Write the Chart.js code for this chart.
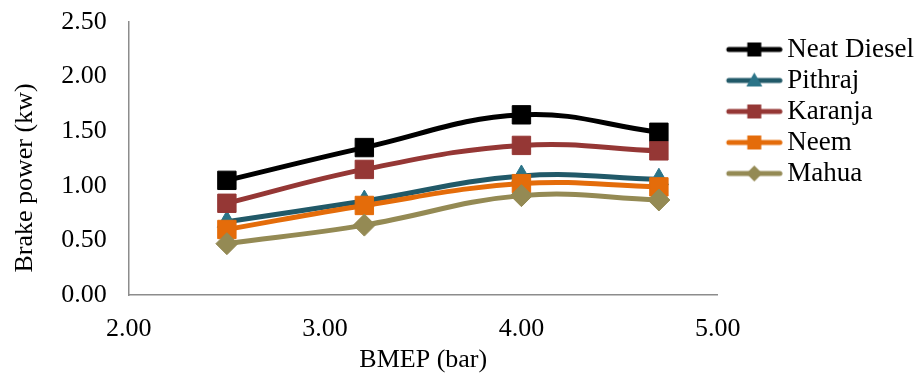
<!DOCTYPE html>
<html>
<head>
<meta charset="utf-8">
<script src="https://cdn.jsdelivr.net/npm/chart.js@4.4.1/dist/chart.umd.min.js"></script>
<style>
  body { margin: 0; background: #fff; }
  #wrap { width: 916px; height: 376px; }
</style>
</head>
<body>
<div id="wrap"><canvas id="bpChart" width="916" height="376"></canvas></div>
<script>
// BMEP (bar) on the x axis
const bmep = [2.5, 3.2, 4.0, 4.7];

// Brake power (kw) per fuel
const neatDiesel = [1.05, 1.35, 1.65, 1.49];
const pithraj    = [0.67, 0.86, 1.09, 1.06];
const karanja    = [0.84, 1.15, 1.37, 1.32];
const neem       = [0.60, 0.82, 1.02, 0.99];
const mahua      = [0.47, 0.64, 0.91, 0.87];

const seriesNames = ['Neat Diesel', 'Pithraj', 'Karanja', 'Neem', 'Mahua'];

Chart.defaults.font.family = "'Liberation Serif', 'Times New Roman', serif";
Chart.defaults.font.size = 26;
Chart.defaults.color = '#000';

function toPoints(values) {
    return values.map((v, i) => ({ x: bmep[i], y: v }));
}

function makeSeries(label, values, lineColor, markerColor, style, radius) {
    return {
        label: label,
        data: toPoints(values),
        borderColor: lineColor,
        backgroundColor: markerColor,
        borderWidth: 5,
        tension: 0.4,
        fill: false,
        pointStyle: style,
        pointRadius: radius,
        pointBackgroundColor: markerColor,
        pointBorderColor: markerColor,
        pointBorderWidth: 1
    };
}

// later datasets sit on top, so they get a lower "order"
const datasets = [
    makeSeries(seriesNames[0], neatDiesel, '#000000', '#000000', 'rect', 13),
    makeSeries(seriesNames[1], pithraj, '#215968', '#2b7488', 'triangle', 11),
    makeSeries(seriesNames[2], karanja, '#953735', '#953735', 'rect', 13),
    makeSeries(seriesNames[3], neem, '#e46c0a', '#e46c0a', 'rect', 13),
    makeSeries(seriesNames[4], mahua, '#948a54', '#948a54', 'rectRot', 11)
];
datasets.forEach((ds, i) => { ds.order = datasets.length - i; });

// line + marker picture for each legend entry (left part left blank on purpose)
function legendIcon(ds) {
    const c = document.createElement('canvas');
    c.width = 70;
    c.height = 26;
    const g = c.getContext('2d');
    const x0 = 16, x1 = 67, mid = (x0 + x1) / 2;
    g.strokeStyle = ds.borderColor;
    g.lineWidth = 5;
    g.lineCap = 'round';
    g.beginPath();
    g.moveTo(x0, 13);
    g.lineTo(x1, 13);
    g.stroke();
    g.fillStyle = ds.pointBackgroundColor;
    g.beginPath();
    if (ds.pointStyle === 'rect') {
        g.rect(mid - 7, 13 - 7, 14, 14);
    } else if (ds.pointStyle === 'triangle') {
        g.moveTo(mid, 5);
        g.lineTo(mid + 8, 19);
        g.lineTo(mid - 8, 19);
        g.closePath();
    } else {
        g.moveTo(mid, 5);
        g.lineTo(mid + 8, 13);
        g.lineTo(mid, 21);
        g.lineTo(mid - 8, 13);
        g.closePath();
    }
    g.fill();
    return c;
}

const ctx = document.getElementById('bpChart').getContext('2d');
new Chart(ctx, {
    type: 'line',
    data: { datasets: datasets },
    options: {
        responsive: false,
        animation: false,
        layout: { padding: { top: 0, right: -8, left: 10, bottom: 0 } },
        scales: {
            x: {
                type: 'linear',
                min: 2,
                max: 5,
                ticks: { stepSize: 1, padding: 19, callback: v => v.toFixed(2) },
                grid: { display: false, drawTicks: false },
                border: { display: true, color: '#8c8c8c', width: 1.5 },
                // fixed band below the plot for tick labels + title
                afterFit: scale => { scale.height = 81; },
                title: { display: true, text: 'BMEP (bar)', padding: { top: 0, bottom: 0 } }
            },
            y: {
                min: 0,
                max: 2.5,
                ticks: { stepSize: 0.5, padding: 22, callback: v => v.toFixed(2) },
                grid: { display: false, drawTicks: false },
                border: { display: true, color: '#8c8c8c', width: 1.5 },
                // the tick padding would otherwise push the plot top down too
                afterFit: scale => { scale.paddingTop = 22; },
                title: {
                    display: true,
                    text: 'Brake power (kw)' + '\u00a0'.repeat(6),
                    padding: { top: 0, bottom: -2 }
                }
            }
        },
        plugins: {
            tooltip: { enabled: false },
            legend: {
                position: 'right',
                align: 'start',
                title: { display: true, text: ' ', font: { size: 10 }, padding: 10 },
                labels: {
                    font: { size: 27 },
                    usePointStyle: true,
                    pointStyleWidth: 52,
                    padding: 4,
                    generateLabels: function(chart) {
                        return chart.data.datasets.map((ds, i) => ({
                            text: ds.label,
                            pointStyle: legendIcon(ds),
                            fillStyle: ds.borderColor,
                            strokeStyle: ds.borderColor,
                            lineWidth: 0,
                            hidden: false,
                            datasetIndex: i
                        }));
                    }
                }
            }
        }
    }
});
</script>
</body>
</html>
